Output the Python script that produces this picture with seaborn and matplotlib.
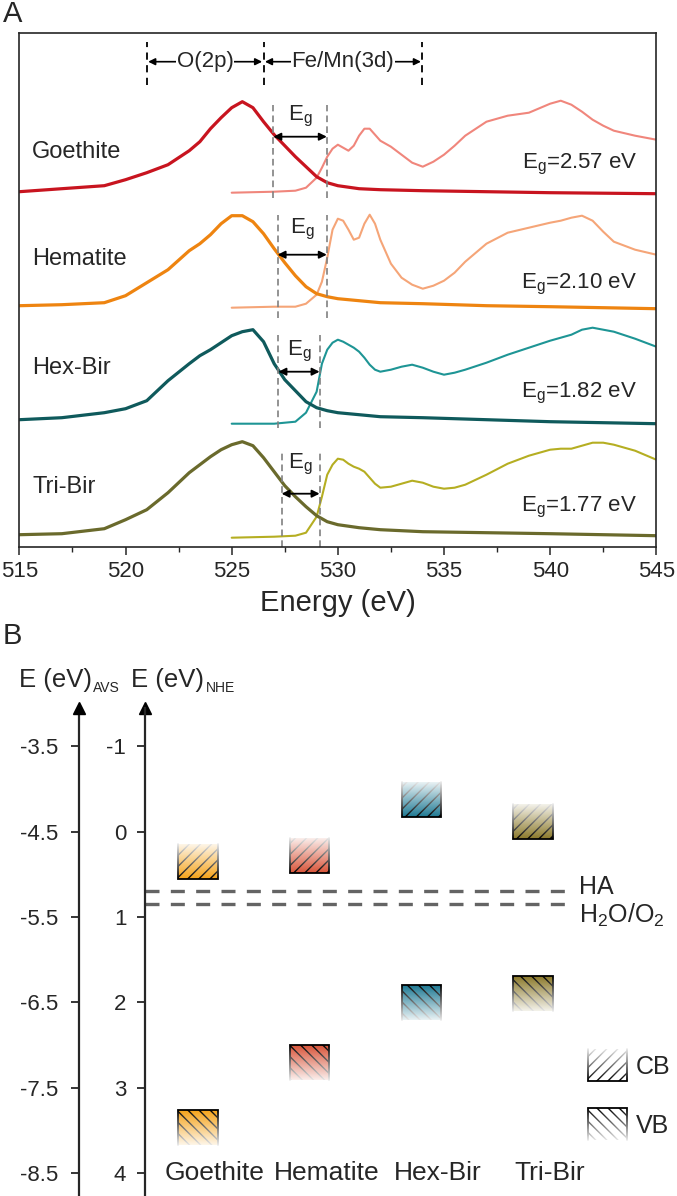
import numpy as np
import matplotlib
matplotlib.use("Agg")
import matplotlib.pyplot as plt
import seaborn as sns

sns.set_style("ticks")
plt.rcParams["font.family"] = ["Liberation Sans", "DejaVu Sans"]
plt.rcParams["axes.unicode_minus"] = False
plt.rcParams["mathtext.fontset"] = "custom"
plt.rcParams["mathtext.rm"] = "Liberation Sans"
plt.rcParams["hatch.linewidth"] = 1.0

# ---------------- panel A data (stacked intensities, a.u.) ----------------
names = ["Goethite", "Hematite", "Hex-Bir", "Tri-Bir"]
eg_values = [2.57, 2.10, 1.82, 1.77]

e_xes = [515, 517, 519, 520, 521, 522, 523, 523.5, 524, 524.5, 525, 525.5, 526,
         526.5, 527, 527.5, 528, 528.5, 529, 529.5, 530, 531, 532, 534, 537, 540, 545]
xes_goethite = [35.5, 35.8, 36.1, 36.7, 37.4, 38.2, 39.6, 40.5, 41.8, 42.9, 43.9, 44.5, 43.9,
                42.5, 41.2, 40.1, 39.0, 38.0, 37.0, 36.4, 36.1, 35.8, 35.7, 35.6, 35.5, 35.4, 35.3]
xes_hematite = [24.1, 24.2, 24.4, 25.1, 26.4, 27.7, 29.6, 30.3, 31.2, 32.3, 33.1, 33.1, 32.5,
                31.3, 29.8, 28.4, 27.1, 26.0, 25.3, 25.0, 24.8, 24.6, 24.4, 24.3, 24.1, 24.0, 23.8]
xes_hexbir = [12.7, 12.9, 13.4, 13.8, 14.6, 16.6, 18.3, 19.1, 19.7, 20.4, 21.1, 21.5, 21.7,
              20.5, 18.3, 16.7, 15.6, 14.5, 13.9, 13.6, 13.4, 13.2, 13.0, 12.9, 12.7, 12.5, 12.3]
xes_tribir = [1.2, 1.3, 1.8, 2.7, 3.7, 5.4, 7.4, 8.2, 9.0, 9.7, 10.2, 10.5, 10.1,
              8.9, 7.5, 6.1, 5.0, 4.0, 3.1, 2.5, 2.2, 1.9, 1.7, 1.5, 1.4, 1.3, 1.1]

e_xas = [525, 527, 528, 528.5, 529, 529.25, 529.5, 529.75, 530, 530.25, 530.5, 530.75, 531,
         531.25, 531.5, 531.75, 532, 532.5, 533, 533.5, 534, 534.5, 535, 535.5, 536, 537, 538,
         539, 540, 540.5, 541, 541.5, 542, 542.5, 543, 544, 545]
xas_goethite = [35.4, 35.5, 35.6, 35.9, 36.9, 37.9, 39.0, 39.8, 40.2, 39.9, 39.6, 40.1, 41.1,
                41.8, 41.8, 41.2, 40.6, 40.0, 39.2, 38.4, 38.0, 38.5, 39.2, 40.1, 41.1, 42.5, 43.1,
                43.4, 44.3, 44.6, 44.2, 43.5, 42.7, 42.1, 41.6, 41.1, 40.7]
xas_hematite = [23.9, 24.0, 24.0, 24.3, 25.2, 26.5, 28.9, 31.7, 32.8, 32.6, 31.7, 30.7, 30.9,
                32.3, 33.2, 32.3, 30.7, 28.3, 26.9, 26.2, 25.8, 26.1, 26.6, 27.4, 28.5, 30.3, 31.4,
                31.9, 32.4, 32.6, 32.9, 33.1, 32.6, 31.5, 30.5, 29.7, 29.2]
xas_hexbir = [12.3, 12.3, 12.5, 13.4, 15.5, 18.3, 19.7, 20.4, 20.7, 20.5, 20.2, 19.9, 19.5,
              18.9, 18.2, 17.7, 17.5, 17.7, 18.0, 18.2, 17.9, 17.5, 17.2, 17.4, 17.7, 18.4, 19.2,
              19.9, 20.6, 20.9, 21.2, 21.7, 21.9, 21.7, 21.5, 20.8, 20.0]
xas_tribir = [0.9, 1.0, 1.1, 1.4, 3.0, 5.0, 7.2, 8.2, 8.8, 8.7, 8.3, 8.0, 7.8,
              7.5, 6.9, 6.3, 5.9, 6.0, 6.3, 6.6, 6.4, 6.0, 5.8, 5.9, 6.2, 7.2, 8.3,
              9.1, 9.7, 9.8, 9.8, 10.1, 10.4, 10.4, 10.2, 9.6, 8.7]

xes_colors = ["#c8141f", "#ee8410", "#0f5a5c", "#6a6a2c"]
xas_colors = ["#f0867c", "#f5a578", "#1e9595", "#b5ae22"]

# band-gap markers
eg_left = [526.96, 527.16, 527.2, 527.35]
eg_right = [529.48, 529.48, 529.14, 529.14]
eg_line_top = [44.2, 33.2, 21.2, 9.7]
eg_line_bot = [34.9, 22.9, 11.9, 0.0]
eg_arrow_y = [41.0, 29.2, 17.5, 5.3]
eg_label_y = [43.0, 31.7, 19.5, 8.2]
name_y = [39.5, 28.8, 17.9, 6.0]
value_y = [38.2, 26.2, 15.3, 3.9]

# region markers at top
region_edges = [521.0, 526.5, 533.98]
region_labels = ["O(2p)", "Fe/Mn(3d)"]

# ---------------- panel B data (eV vs NHE) ----------------
cb_levels = [0.55, 0.48, -0.17, 0.09]
vb_levels = [3.26, 2.50, 1.80, 1.69]
box_colors = ["#f5a31a", "#d8553a", "#1f7a94", "#8c7a2c"]
ha_level = 0.69
water_level = 0.85
nhe_ticks = [-1, 0, 1, 2, 3, 4]
avs_ticks = [-3.5, -4.5, -5.5, -6.5, -7.5, -8.5]

W, H = 677, 1196
fig = plt.figure(figsize=(W / 100, H / 100), dpi=100)

# ======================= panel A =======================
axA = fig.add_axes([19.4 / W, 1 - 546.7 / H, (656.3 - 19.4) / W, (546.7 - 33) / H])
for i in range(4):
    xes = [xes_goethite, xes_hematite, xes_hexbir, xes_tribir][i]
    xas = [xas_goethite, xas_hematite, xas_hexbir, xas_tribir][i]
    sns.lineplot(x=e_xas, y=xas, ax=axA, color=xas_colors[i], lw=1.5,
                 estimator=None, sort=False)
    sns.lineplot(x=e_xes, y=xes, ax=axA, color=xes_colors[i], lw=2.3,
                 estimator=None, sort=False)
    for xv in (eg_left[i], eg_right[i]):
        axA.plot([xv, xv], [eg_line_bot[i], eg_line_top[i]], color="#808080",
                 lw=1.2, dashes=(4, 2.5))
    axA.annotate("", xy=(eg_right[i], eg_arrow_y[i]), xytext=(eg_left[i], eg_arrow_y[i]),
                 arrowprops=dict(arrowstyle="<|-|>", color="black", lw=1.3,
                                 mutation_scale=11, shrinkA=0, shrinkB=0))
    axA.text((eg_left[i] + eg_right[i]) / 2, eg_label_y[i], r"E$_\mathregular{g}$",
             ha="center", va="center", fontsize=16)
    axA.text(515.6, name_y[i], names[i], ha="left", va="center", fontsize=17)
    axA.text(544.1, value_y[i], r"E$_\mathregular{g}$=%.2f eV" % eg_values[i],
             ha="right", va="center", fontsize=16)

for xv in region_edges:
    axA.plot([xv, xv], [46.2, 50.5], color="black", lw=1.3, dashes=(4, 3))
for j, lab in enumerate(region_labels):
    x0, x1 = region_edges[j], region_edges[j + 1]
    axA.annotate("", xy=(x1, 48.5), xytext=(x0, 48.5),
                 arrowprops=dict(arrowstyle="<|-|>", color="black", lw=1.2,
                                 mutation_scale=10, shrinkA=1, shrinkB=1))
    axA.text((x0 + x1) / 2, 48.5, lab, ha="center", va="center", fontsize=16,
             bbox=dict(facecolor="white", edgecolor="none", pad=0.5))

axA.set_xlim(515, 545)
axA.set_ylim(0, 51.37)
axA.set_yticks([])
axA.set_xticks([515, 520, 525, 530, 535, 540, 545])
axA.set_xticks(np.arange(517.5, 545, 5), minor=True)
axA.tick_params(axis="x", which="major", direction="out", length=6, width=1.1,
                labelsize=16, pad=4)
axA.tick_params(axis="x", which="minor", direction="out", length=3.5, width=1.0)
axA.set_xlabel("Energy (eV)", fontsize=21, labelpad=5)
for s in axA.spines.values():
    s.set_linewidth(1.2)

fig.text(3 / W, 1 - 14 / H, "A", fontsize=21, va="center", ha="left")
fig.text(3 / W, 1 - 636 / H, "B", fontsize=21, va="center", ha="left")

# ======================= panel B =======================
axB = fig.add_axes([145 / W, 0, (W - 145) / W, (1196 - 708) / H])
xs = np.arange(len(names))
bw = 0.35
bh = 0.41


def band_box(ax, x, edge, far, color, hatch):
    # colored hatched box, solid at `edge`, fading toward `far`
    ax.bar(x, far - edge, bottom=edge, width=bw, color=color, edgecolor="black",
           linewidth=0, hatch=hatch, zorder=3)
    ax.plot([x - bw / 2, x - bw / 2, x + bw / 2, x + bw / 2], [far, edge, edge, far],
            color="black", lw=1.3, zorder=3.5, solid_joinstyle="miter")
    ramp = np.zeros((64, 1, 4))
    ramp[..., :3] = 1.0
    ramp[:, 0, 3] = np.linspace(0.0, 0.93, 64)
    ax.imshow(ramp, extent=(x - bw / 2 - 0.03, x + bw / 2 + 0.03, edge, far + 0.01 * np.sign(far - edge)),
              origin="lower", aspect="auto", zorder=4, interpolation="bilinear")


for i in range(4):
    band_box(axB, xs[i], cb_levels[i], cb_levels[i] - bh, box_colors[i], "///")
    band_box(axB, xs[i], vb_levels[i], vb_levels[i] + bh, box_colors[i], "\\\\\\")
    axB.text(xs[i] + 0.15, 4.0, names[i], ha="center", va="center", fontsize=19)

xleft = (145 - 198) / 111.67
xright = (677 - 198) / 111.67
xend = (572 - 198) / 111.67
for lev in (ha_level, water_level):
    axB.plot([xleft, xend], [lev, lev], color="#646464", lw=2.4, dashes=(4.2, 3.4),
             solid_capstyle="butt", dash_capstyle="butt", zorder=2)
axB.text(xend + 0.06, ha_level - 0.04, "HA", ha="left", va="center", fontsize=18)
axB.text(xend + 0.06, water_level + 0.13,
         r"H$_\mathregular{2}$O/O$_\mathregular{2}$", ha="left", va="center", fontsize=18)

# legend boxes
leg_x = (607.5 - 198) / 111.67
band_box(axB, leg_x, 2.92, 2.92 - 0.37, "white", "///")
band_box(axB, leg_x, 3.24, 3.24 + 0.37, "white", "\\\\\\")
axB.text(leg_x + 0.25, 2.76, "CB", ha="left", va="center", fontsize=18)
axB.text(leg_x + 0.25, 3.45, "VB", ha="left", va="center", fontsize=18)

axB.set_xlim(xleft, xright)
axB.set_ylim(4.27, -1.45)
axB.set_xticks([])
axB.set_yticks(nhe_ticks)
axB.set_yticklabels([str(t) for t in nhe_ticks])
axB.tick_params(axis="y", direction="out", length=5.5, width=1.3, labelsize=16, pad=8)
for k in ("top", "right", "bottom"):
    axB.spines[k].set_visible(False)
axB.spines["left"].set_linewidth(1.6)
axB.plot(0, 1, marker="^", color="black", markersize=9, transform=axB.transAxes,
         clip_on=False)

avs_loc = (79.3 - 145) / (W - 145)
sec = axB.secondary_yaxis(avs_loc, functions=(lambda v: -4.5 - v, lambda v: -4.5 - v))
sec.set_yticks(avs_ticks)
sec.set_yticklabels([str(t) for t in avs_ticks])
sec.tick_params(axis="y", direction="out", length=5.5, width=1.3, labelsize=16, pad=10)
sec.spines["left"].set_linewidth(1.6)
axB.plot(avs_loc, 1, marker="^", color="black", markersize=9, transform=axB.transAxes,
         clip_on=False)

# axis titles
fig.text(19 / W, 1 - 680 / H, "E (eV)", fontsize=18.5, va="center", ha="left")
fig.text(93 / W, 1 - 688 / H, "AVS", fontsize=10, va="center", ha="left")
fig.text(131 / W, 1 - 680 / H, "E (eV)", fontsize=18.5, va="center", ha="left")
fig.text(206 / W, 1 - 688 / H, "NHE", fontsize=10, va="center", ha="left")

fig.savefig("out.png", dpi=100)
